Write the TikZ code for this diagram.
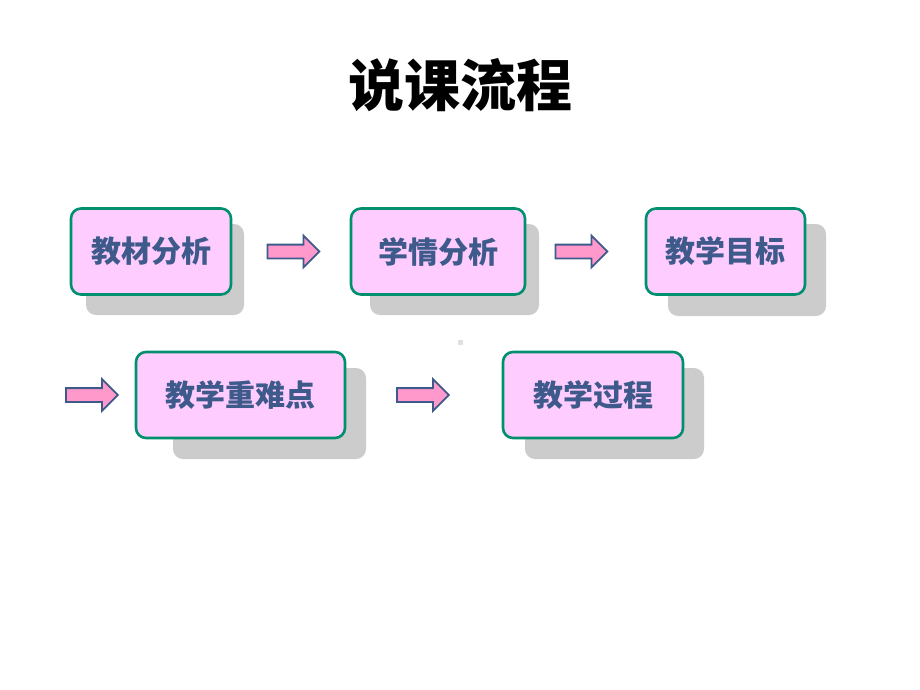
\documentclass[tikz,border=0pt]{standalone}
\usepackage{fontspec}
\newfontfamily\cjk{Noto Sans CJK SC}
\usetikzlibrary{shapes.arrows}
\definecolor{boxfill}{HTML}{FFCCFF}
\definecolor{boxline}{HTML}{00906E}
\definecolor{boxtext}{HTML}{3D5A8A}
\definecolor{arrowfill}{HTML}{FF99CC}
\definecolor{shadegray}{HTML}{CCCCCC}
\tikzset{
    stage/.style={draw=boxline, line width=2.6pt, fill=boxfill, rounded corners=10pt,
        text=boxtext, font=\cjk\bfseries\fontsize{30}{34}\selectfont,
        minimum height=86pt, inner sep=0pt},
    shade/.style={fill=shadegray, rounded corners=10pt},
    blockarrow/.style={single arrow, draw=boxtext, line width=1.8pt, fill=arrowfill,
        minimum height=52pt, inner sep=6pt, single arrow head extend=9pt}
}
\begin{document}
\begin{tikzpicture}[x=1pt,y=-1pt]
    \useasboundingbox (0,0) rectangle (920,690);
    % title
    \node[font=\cjk\bfseries\fontsize{56}{62}\selectfont] (title) at (460,85) {说课流程};
    % shadows
    \fill[shade] (86,224) rectangle (244,315);
    \fill[shade] (370,224) rectangle (539,315);
    \fill[shade] (668,224) rectangle (826,316);
    \fill[shade] (173,368) rectangle (366,459);
    \fill[shade] (525,368) rectangle (704,459);
    % stages
    \node[stage, minimum width=160pt] (material) at (151,251.5) {教材分析};
    \node[stage, minimum width=174pt] (learner) at (438,251.5) {学情分析};
    \node[stage, minimum width=159pt] (goal) at (725.5,251.5) {教学目标};
    \node[stage, minimum width=209pt] (keypoint) at (240.5,395) {教学重难点};
    \node[stage, minimum width=180pt] (process) at (593,395) {教学过程};
    % arrows
    \node[blockarrow] (a1) at (290,251.5) {};
    \node[blockarrow] (a2) at (578,251.5) {};
    \node[blockarrow] (a3) at (88.5,395) {};
    \node[blockarrow] (a4) at (419.5,395) {};
    % stray mark
    \fill[black!12] (457.5,339.5) rectangle (462.5,344.5);
\end{tikzpicture}
\end{document}
